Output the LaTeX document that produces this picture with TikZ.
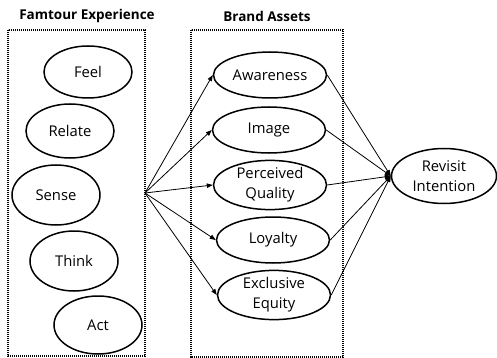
\documentclass[tikz,border=0pt]{standalone}
\usepackage{fontspec}
\setmainfont{Open Sans}
\usetikzlibrary{arrows.meta,shapes.geometric}
\begin{document}
\begin{tikzpicture}[x=1pt,y=-1pt,
  every node/.style={font=\fontsize{14.8}{20}\selectfont},
  oval/.style={draw, ellipse, line width=1.5pt, inner sep=0pt, align=center},
  leftoval/.style={oval, minimum width=88pt},
  assetoval/.style={oval, minimum width=113pt, minimum height=46pt},
  groupbox/.style={line width=1.2pt, dash pattern=on 1.1pt off 0.9pt},
  title/.style={font=\fontsize{13.5}{16}\selectfont\bfseries},
  link/.style={line width=0.8pt, -{Triangle[length=6pt,width=4.5pt]}}
]
\useasboundingbox (0,0) rectangle (497,358);

% group titles
\node[title] (t1) at (87,16) {Famtour Experience};
\node[title] (t2) at (267,16) {Brand Assets};

% group frames
\draw[groupbox] (8,30) rectangle (145,356);
\draw[groupbox] (191,30) rectangle (343,357);

% experience dimensions
\node[leftoval, minimum height=52pt] (feel)   at (88,72)  {Feel};
\node[leftoval, minimum height=54pt] (relate) at (70,131) {Relate};
\node[leftoval, minimum height=60pt] (sense)  at (56,195) {Sense};
\node[leftoval, minimum height=60pt] (think)  at (74,261) {Think};
\node[leftoval, minimum height=58pt] (act)    at (98,325) {Act};

% brand assets
\node[assetoval] (aware) at (270,75)  {Awareness};
\node[assetoval] (image) at (269,130) {Image};
\node[assetoval] (qual)  at (270,185) {Perceived\\Quality};
\node[assetoval] (loyal) at (273,240) {Loyalty};
\node[assetoval] (excl)  at (274,295) {Exclusive\\Equity};

% outcome
\node[oval, minimum width=105pt, minimum height=55pt] (revisit) at (444,176) {Revisit\\Intention};

% experience block feeds each asset
\coordinate (src) at (145,193);
\foreach \n in {aware,image,qual,loyal,excl}
  \draw[link] (src) -- (\n.west);

% each asset feeds revisit intention
\foreach \n in {aware,image,qual,loyal,excl}
  \draw[link] (\n.east) -- (revisit.west);
\end{tikzpicture}
\end{document}
